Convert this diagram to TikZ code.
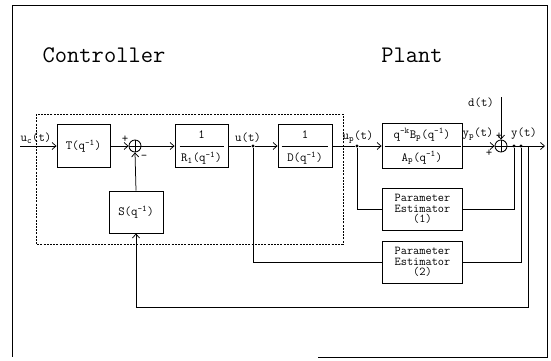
\documentclass[tikz,border=0pt]{standalone}
\usetikzlibrary{arrows.meta,calc}
\begin{document}
\begin{tikzpicture}[x=1pt,y=-1pt,
  every node/.style={font=\fontsize{12.5}{13}\selectfont\ttfamily, inner sep=0pt},
  wire/.style={line width=0.75pt},
  arr/.style={wire,-{Straight Barb[length=4pt,width=7pt]}},
  blk/.style={draw, line width=0.85pt, minimum width=#1, minimum height=43pt},
  blk/.default=53pt,
  pe/.style={draw, line width=0.85pt, minimum width=80pt, minimum height=42pt, align=center,
    font=\fontsize{12}{10.5}\selectfont\ttfamily},
  sumj/.style={draw, circle, line width=0.85pt, minimum size=12pt,
    path picture={\draw[line width=0.75pt] (path picture bounding box.north) -- (path picture bounding box.south)
      (path picture bounding box.west) -- (path picture bounding box.east);}},
  dsh/.style={line width=0.75pt, dash pattern=on 2pt off 1.2pt},
  title/.style={font=\fontsize{23.8}{25}\selectfont\ttfamily},
  dot/.style={circle, fill, minimum size=3.2pt}
]
\useasboundingbox (0,0) rectangle (551,360);
% frame
\draw[line width=0.9pt] (318,357) -- (547,357) -- (547,5) -- (12,5) -- (12,357);
% titles
\node[title] (ctl) at (104,55) {Controller};
\node[title] (plt) at (412,55) {Plant};
% controller region
\draw[dsh] (36,114) rectangle (343,244);
% blocks
\node[blk] (T) at (83.5,146) {T(q\textsuperscript{-1})};
\node[sumj] (s1) at (135,146) {};
\node[blk=54pt, minimum height=42pt] (S) at (136,212) {S(q\textsuperscript{-1})};
\node[blk] (R1) at (201.5,146) {};
\node (R1n) at ($(R1.center)+(0,-11)$) {1};
\node (R1d) at ($(R1.center)+(0,12)$) {R\textsubscript{1}(q\textsuperscript{-1})};
\node[blk=54pt] (D) at (305,146) {};
\node (Dn) at ($(D.center)+(0,-11)$) {1};
\node (Dd) at ($(D.center)+(0,12)$) {D(q\textsuperscript{-1})};
\node[blk=80pt, minimum height=45pt] (P) at (422,146) {};
\node (Pn) at ($(P.center)+(0,-11)$) {q\textsuperscript{-k}B\textsubscript{p}(q\textsuperscript{-1})};
\node (Pd) at ($(P.center)+(0,12)$) {A\textsubscript{p}(q\textsuperscript{-1})};
\node[sumj] (s2) at (501,146) {};
\node[pe] (PE1) at (422.5,209) {Parameter\\Estimator\\(1)};
\node[pe] (PE2) at (422.5,262) {Parameter\\Estimator\\(2)};
% fraction bars
\draw[wire] ([xshift=5pt]R1.west) -- ([xshift=-4pt]R1.east);
\draw[wire] ([xshift=4pt]D.west) -- ([xshift=-4pt]D.east);
\draw[wire] ([xshift=3pt]P.west) -- ([xshift=-1pt]P.east);
% junction points
\coordinate (in) at (20,146);
\node[dot] (ju) at (253,146) {};
\node[dot] (jp) at (357,146) {};
\node[dot] (jy1) at (514,146) {};
\node[dot] (jy2) at (521,146) {};
\coordinate (jy3) at (528,146);
\coordinate (out) at (545,146);
\coordinate (dtop) at (501,97);
\coordinate (fb) at (136,307);
% signal path
\draw[arr] (in) -- (T.west);
\draw[arr] (T.east) -- (s1.west);
\draw[arr] (S.north) -- (s1.south);
\draw[arr] (s1.east) -- (R1.west);
\draw[wire] (R1.east) -- (ju);
\draw[arr] (ju) -- (D.west);
\draw[wire] (D.east) -- (jp);
\draw[arr] (jp) -- (P.west);
\draw[arr] (P.east) -- (s2.west);
\draw[arr] (dtop) -- (s2.north);
\draw[arr] (s2.east) -- (out);
% estimator connections
\draw[wire] (jp) |- (PE1.west);
\draw[wire] (jy1) |- (PE1.east);
\draw[wire] (ju) |- (PE2.west);
\draw[wire] (jy2) |- (PE2.east);
% feedback
\draw[wire] (jy3) |- (fb);
\draw[arr] (fb) -- (S.south);
% signal labels
\node (luc) at (36,138) {u\textsubscript{c}(t)};
\node (lu) at (248,138) {u(t)};
\node (lup) at (358,137) {u\textsubscript{p}(t)};
\node (lyp) at (478,134) {y\textsubscript{p}(t)};
\node (ly) at (524,134) {y(t)};
\node (ld) at (481,103) {d(t)};
% signs
\node (p1) at (125,139) {+};
\node (m1) at (144,157) {-};
\node (p2) at (499,136) {+};
\node (p3) at (489,153) {+};
\end{tikzpicture}
\end{document}
